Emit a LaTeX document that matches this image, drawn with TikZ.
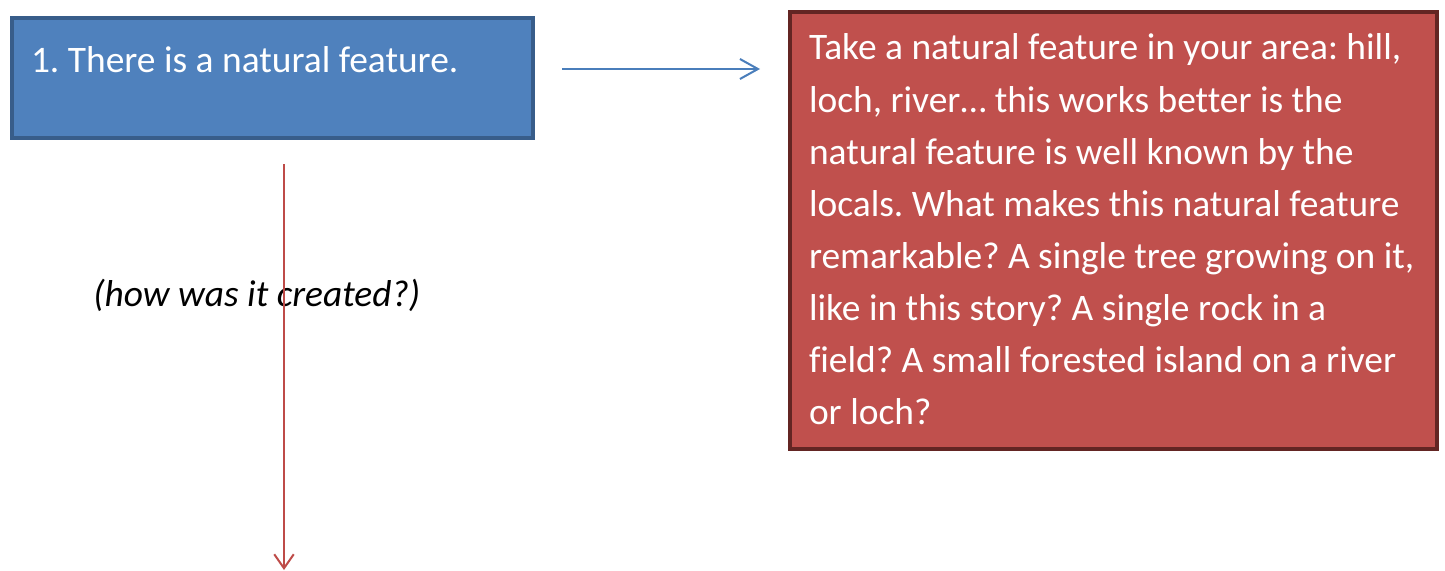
\documentclass[tikz,border=0pt]{standalone}
\usepackage{fontspec}
\setmainfont[Ligatures=NoCommon]{Carlito}
\usetikzlibrary{arrows.meta, positioning}
\definecolor{boxblue}  {RGB}{79,  129, 189}
\definecolor{edgeblue} {RGB}{56,  93,  138}
\definecolor{boxred}   {RGB}{192, 80,  77}
\definecolor{edgered}  {RGB}{99,  37,  35}
\definecolor{lineblue} {RGB}{74,  126, 187}
\definecolor{linered}  {RGB}{190, 75,  72}

\begin{document}
\frenchspacing
\begin{tikzpicture}[x=0.2mm,y=-0.2mm,
		cardtext/.style={font=\fontsize{21.3}{29.6}\selectfont, text=white, align=flush left, anchor=north west, line width=0.8mm, inner xsep=3.8mm, inner ysep=0pt},
		bluearrow/.style={draw=lineblue, line width=0.4mm, -{Straight Barb[length=3.6mm,width=4mm]}},
		redarrow/.style={draw=linered, line width=0.4mm, -{Straight Barb[length=2.8mm,width=3.9mm]}}]
				\useasboundingbox (0,0) rectangle (1445,571);
				\node[cardtext, fill=boxblue, draw=edgeblue, text width=96.6mm, text height=11mm, text depth=13mm] (feature) at (10,16) {1. There is a natural feature.};
				\node[cardtext, fill=boxred, draw=edgered, text width=121.8mm, text height=9.6mm, text depth=77.8mm] (note) at (788,10) {Take a natural feature in your area: hill,\\ loch, river\ldots{} this works better is the\\ natural feature is well known by the\\ locals. What makes this natural feature\\ remarkable? A single tree growing on it,\\ like in this story? A single rock in a\\ field? A small forested island on a river\\ or loch?};
				\node[anchor=base west, font=\fontsize{21.3}{29.6}\selectfont\itshape, inner sep=0pt] (origin) at (93,306) {(how was it created?)};
				\coordinate (next) at (284,570);
				\draw[bluearrow, shorten <=5.4mm, shorten >=5.6mm] ([yshift=1.8mm]feature.east) -- ([yshift=1.8mm]feature.east -| note.west);
				\draw[redarrow, shorten <=4.8mm] (feature.south -| next) -- (next);
			\end{tikzpicture}
\end{document}
